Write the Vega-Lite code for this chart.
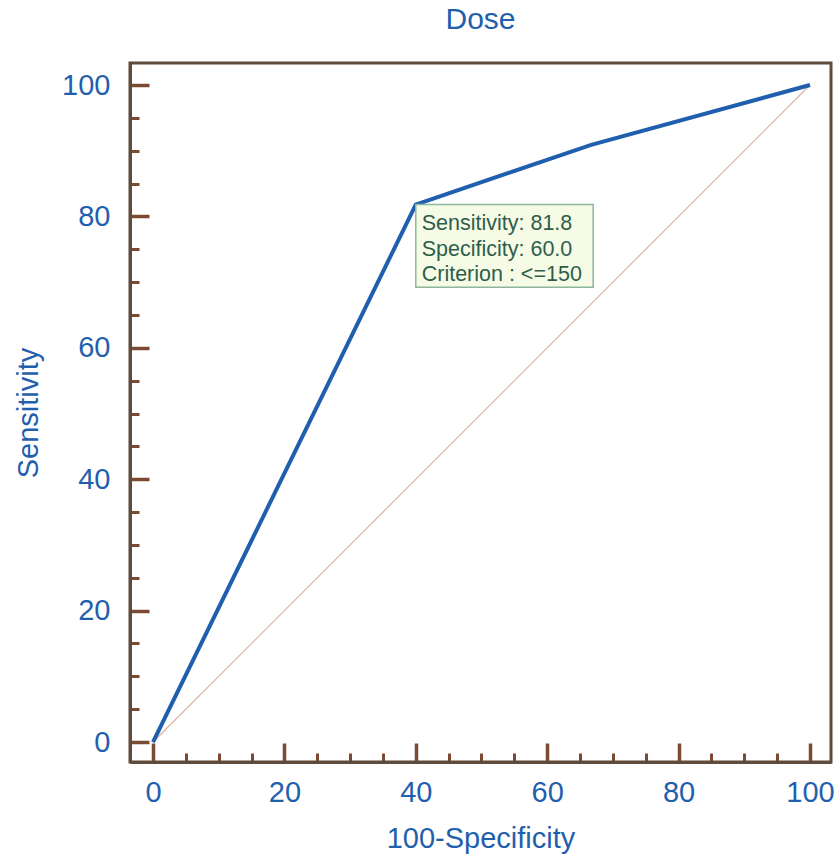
{
  "$schema": "https://vega.github.io/schema/vega-lite/v6.json",
  "autosize": "none",
  "width": 701,
  "height": 699,
  "padding": {"left": 130, "top": 63, "right": 9, "bottom": 99},
  "background": "white",
  "config": {
    "view": {"stroke": "#5e4b3b", "strokeWidth": 3},
    "font": "Liberation Sans"
  },
  "title": {
    "text": "Dose",
    "fontSize": 30,
    "fontWeight": "normal",
    "font": "Liberation Sans",
    "color": "#1f5fae",
    "anchor": "middle",
    "baseline": "alphabetic",
    "offset": 4
  },
  "datasets": {
    "roc": [
      {"fpr": 0, "sens": 0},
      {"fpr": 40, "sens": 81.8},
      {"fpr": 66.7, "sens": 90.9},
      {"fpr": 100, "sens": 100}
    ],
    "diag": [
      {"fpr": 0, "sens": 0},
      {"fpr": 100, "sens": 100}
    ],
    "box": [
      {"x1": 40, "x2": 67, "y1": 81.8, "y2": 69.2}
    ],
    "note": [
      {"x": 40.9, "y": 77.9, "t": "Sensitivity: 81.8"},
      {"x": 40.9, "y": 74.0, "t": "Specificity: 60.0"},
      {"x": 40.9, "y": 70.1, "t": "Criterion : <=150"}
    ]
  },
  "resolve": {"axis": {"x": "independent", "y": "independent"}},
  "layer": [
    {
      "data": {"name": "diag"},
      "mark": {"type": "line", "color": "#d9b0a6", "strokeWidth": 1.2},
      "encoding": {
        "x": {
          "field": "fpr", "type": "quantitative",
          "scale": {"domain": [-3.5, 103.2], "nice": false, "zero": false},
          "axis": {
            "orient": "bottom",
            "values": [5, 10, 15, 25, 30, 35, 45, 50, 55, 65, 70, 75, 85, 90, 95],
            "labels": false, "domain": false, "grid": false, "title": null,
            "tickSize": -9, "tickWidth": 3, "tickColor": "#7b4a32"
          }
        },
        "y": {
          "field": "sens", "type": "quantitative",
          "scale": {"domain": [-3.04, 103.35], "nice": false, "zero": false},
          "axis": {
            "orient": "left",
            "values": [5, 10, 15, 25, 30, 35, 45, 50, 55, 65, 70, 75, 85, 90, 95],
            "labels": false, "domain": false, "grid": false, "title": null,
            "tickSize": -9, "tickWidth": 3, "tickColor": "#7b4a32"
          }
        }
      }
    },
    {
      "data": {"name": "roc"},
      "mark": {"type": "line", "color": "#1f5fae", "strokeWidth": 4},
      "encoding": {
        "x": {
          "field": "fpr", "type": "quantitative",
          "axis": {
            "orient": "bottom",
            "values": [0, 20, 40, 60, 80, 100],
            "grid": false,
            "domain": true, "domainColor": "#5e4b3b", "domainWidth": 3,
            "tickSize": -19, "tickWidth": 3.5, "tickColor": "#7b4a32",
            "labelFont": "Liberation Sans", "labelFontSize": 29, "labelColor": "#1f5fae",
            "labelPadding": 35, "labelBaseline": "top",
            "title": "100-Specificity",
            "titleFont": "Liberation Sans", "titleFontSize": 29, "titleFontWeight": "normal",
            "titleColor": "#1f5fae", "titleBaseline": "alphabetic", "titleY": 85
          }
        },
        "y": {
          "field": "sens", "type": "quantitative",
          "axis": {
            "orient": "left",
            "values": [0, 20, 40, 60, 80, 100],
            "grid": false,
            "domain": true, "domainColor": "#5e4b3b", "domainWidth": 3,
            "tickSize": -19, "tickWidth": 3.5, "tickColor": "#7b4a32",
            "labelFont": "Liberation Sans", "labelFontSize": 29, "labelColor": "#1f5fae",
            "labelPadding": 39,
            "title": "Sensitivity",
            "titleFont": "Liberation Sans", "titleFontSize": 29, "titleFontWeight": "normal",
            "titleColor": "#1f5fae", "titleBaseline": "alphabetic", "titleX": -93, "titleY": 349.5
          }
        }
      }
    },
    {
      "data": {"name": "box"},
      "mark": {"type": "rect", "fill": "#f6fbe6", "stroke": "#8db69c", "strokeWidth": 1.5},
      "encoding": {
        "x": {"field": "x1", "type": "quantitative", "axis": null},
        "x2": {"field": "x2"},
        "y": {"field": "y1", "type": "quantitative", "axis": null},
        "y2": {"field": "y2"}
      }
    },
    {
      "data": {"name": "note"},
      "mark": {"type": "text", "align": "left", "baseline": "alphabetic", "font": "Liberation Sans", "fontSize": 21.5, "color": "#2d5e4c"},
      "encoding": {
        "x": {"field": "x", "type": "quantitative", "axis": null},
        "y": {"field": "y", "type": "quantitative", "axis": null},
        "text": {"field": "t"}
      }
    }
  ]
}
